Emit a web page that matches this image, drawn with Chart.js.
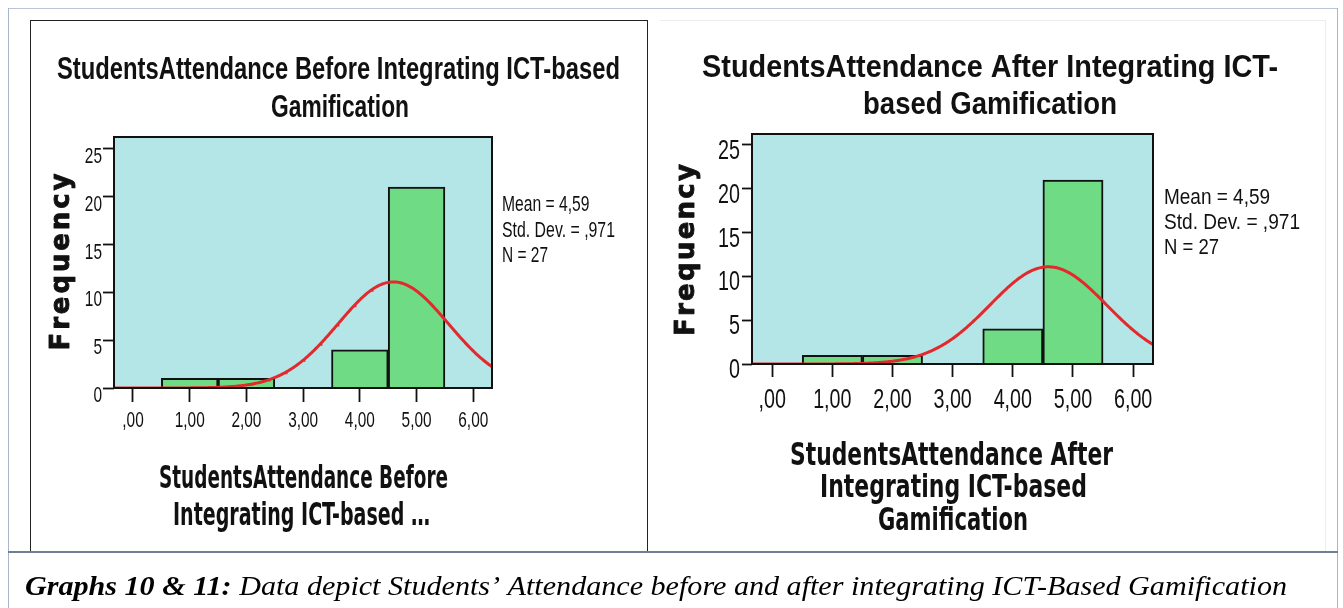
<!DOCTYPE html>
<html>
<head>
<meta charset="utf-8">
<script src="https://cdn.jsdelivr.net/npm/chart.js@4.4.1/dist/chart.umd.min.js"></script>
<style>
  html, body { margin: 0; padding: 0; background: #fff; }
  #page { position: relative; width: 1343px; height: 608px; overflow: hidden; background: #fff; }
  .rule { position: absolute; }
  canvas { position: absolute; }
</style>
</head>
<body>
<div id="page">
  <!-- outer frame and caption separator -->
  <div class="rule" style="left:8px;top:8px;width:1330px;height:1px;background:#b9c6d8"></div>
  <div class="rule" style="left:8px;top:8px;width:1px;height:600px;background:#a8b6ca"></div>
  <div class="rule" style="left:1337px;top:8px;width:1px;height:600px;background:#a8b6ca"></div>
  <div class="rule" style="left:8px;top:551px;width:1330px;height:2px;background:#6f7f93"></div>
  <!-- left panel frame (open at the bottom) -->
  <div class="rule" style="left:30px;top:20px;width:618px;height:1px;background:#222"></div>
  <div class="rule" style="left:30px;top:20px;width:1px;height:531px;background:#222"></div>
  <div class="rule" style="left:647px;top:20px;width:1px;height:531px;background:#222"></div>
  <!-- right panel faint frame -->
  <div class="rule" style="left:660px;top:20px;width:665px;height:1px;background:#ececec"></div>
  <div class="rule" style="left:1325px;top:20px;width:1px;height:531px;background:#ececec"></div>

  <canvas id="before" width="660" height="560" style="left:0;top:0"></canvas>
  <canvas id="after" width="683" height="560" style="left:660px;top:0"></canvas>
  <canvas id="caption" width="1343" height="55" style="left:0;top:553px"></canvas>
</div>

<script>
// ---- data ----
const binCenters   = [1, 2, 4, 5];
const beforeCounts = [1, 1, 4, 21];
const afterCounts  = [1, 1, 4, 21];
const xTickLabels  = [',00', '1,00', '2,00', '3,00', '4,00', '5,00', '6,00'];
const yTickStep    = 5;
const beforeStats  = [4.59, 0.971, 27];   // mean, std. dev., N
const afterStats   = [4.59, 0.971, 27];
const beforeTitle  = ['StudentsAttendance Before Integrating ICT-based', 'Gamification'];
const afterTitle   = ['StudentsAttendance After Integrating ICT-', 'based Gamification'];
const beforeXTitle = ['StudentsAttendance Before', 'Integrating ICT-based \u2026'];
const afterXTitle  = ['StudentsAttendance After', 'Integrating ICT-based', 'Gamification'];
const yTitle       = 'Frequency';
const captionBold  = 'Graphs 10 & 11:';
const captionText  = ' Data depict Students\u2019 Attendance before and after integrating ICT-Based Gamification';

// ---- styling ----
const SANS     = "'Liberation Sans', Arial, sans-serif";
const PLOT_BG  = '#b4e6e8';
const BAR_FILL = '#6fdc85';
const CURVE    = '#e3292d';
const INK      = '#111';
const X_MIN = -0.335, X_MAX = 6.33, Y_MAX = 26.25;

// SPSS-style number: comma decimal, no leading zero
function spss(v, digits) {
  let s = v.toFixed(digits).replace('.', ',');
  if (s.startsWith('0,')) s = s.slice(1);
  return s;
}

// Normal curve fitted from the summary statistics (bin width 1)
function normalCurve(stats) {
  const [mean, sd, n] = stats;
  const peak = n / (sd * Math.sqrt(2 * Math.PI));
  const pts = [];
  for (let i = 0; i <= 400; i++) {
    const x = X_MIN + (X_MAX - X_MIN) * i / 400;
    pts.push({ x: x, y: peak * Math.exp(-((x - mean) ** 2) / (2 * sd * sd)) });
  }
  return pts;
}

// text squeezed/stretched to an exact width
function fitText(ctx, text, x, baseline, font, width, align) {
  ctx.save();
  ctx.font = font;
  ctx.fillStyle = INK;
  ctx.textAlign = 'left';
  ctx.textBaseline = 'alphabetic';
  const w = ctx.measureText(text).width;
  const left = align === 'left' ? x : x - width / 2;
  ctx.translate(left, baseline);
  ctx.scale(width / w, 1);
  ctx.fillText(text, 0, 0);
  ctx.restore();
}

// text with a fixed horizontal squeeze factor
function squeezedText(ctx, text, x, baseline, font, sx, align) {
  ctx.save();
  ctx.font = font;
  ctx.fillStyle = INK;
  ctx.textAlign = 'left';
  ctx.textBaseline = 'alphabetic';
  const w = ctx.measureText(text).width * sx;
  const left = align === 'right' ? x - w : align === 'center' ? x - w / 2 : x;
  ctx.translate(left, baseline);
  ctx.scale(sx, 1);
  ctx.fillText(text, 0, 0);
  ctx.restore();
}

// rotated, letter-spaced, heavy axis title
function spacedVertical(ctx, text, cx, cy, font, length) {
  ctx.save();
  ctx.font = font;
  ctx.fillStyle = INK;
  ctx.strokeStyle = INK;
  ctx.lineWidth = 0.9;
  ctx.lineJoin = 'round';
  const chars = [...text];
  const widths = chars.map(c => ctx.measureText(c).width);
  const natural = widths.reduce((a, b) => a + b, 0);
  const gap = (length - natural) / (chars.length - 1);
  ctx.translate(cx, cy);
  ctx.rotate(-Math.PI / 2);
  ctx.textAlign = 'left';
  ctx.textBaseline = 'middle';
  let x = -length / 2;
  chars.forEach((c, i) => { ctx.fillText(c, x, 0); ctx.strokeText(c, x, 0); x += widths[i] + gap; });
  ctx.restore();
}

function makePanel(id, counts, stats, titles, xTitles, L) {
  const statLines = ['Mean = ' + spss(stats[0], 2), 'Std. Dev. = ' + spss(stats[1], 3), 'N = ' + stats[2]];

  const decor = {
    id: 'panelDecor',
    beforeDraw(chart) {
      const a = chart.chartArea, ctx = chart.ctx;
      ctx.save();
      ctx.fillStyle = PLOT_BG;
      ctx.fillRect(a.left, a.top, a.right - a.left, a.bottom - a.top);
      ctx.restore();
    },
    afterDraw(chart) {
      const a = chart.chartArea, ctx = chart.ctx;
      ctx.save();
      ctx.strokeStyle = INK;
      ctx.lineWidth = 2;
      ctx.strokeRect(a.left, a.top, a.right - a.left, a.bottom - a.top);
      ctx.restore();

      // tick labels in the narrow SPSS style, placed by the chart's own scales
      const xs = chart.scales.x, ys = chart.scales.y;
      const tickFont = L.tickSize + 'px ' + SANS;
      xs.ticks.forEach(t => squeezedText(ctx, xTickLabels[Math.round(t.value)],
        xs.getPixelForValue(t.value), L.xLabelBase, tickFont, L.tickSqueeze, 'center'));
      ys.ticks.forEach(t => squeezedText(ctx, String(t.value),
        L.yLabelRight, ys.getPixelForValue(t.value) + L.yLabelDrop, tickFont, L.tickSqueeze, 'right'));

      titles.forEach((t, i) => fitText(ctx, t, L.title[i][0], L.title[i][1], L.titleFont, L.title[i][2]));
      xTitles.forEach((t, i) => fitText(ctx, t, L.xTitle[i][0], L.xTitle[i][1], L.xTitleFont, L.xTitle[i][2]));
      spacedVertical(ctx, yTitle, L.yTitle[0], L.yTitle[1], L.yTitleFont, L.yTitle[2]);
      statLines.forEach((t, i) => fitText(ctx, t, L.stats[0], L.stats[1][i], L.statFont, L.stats[2][i], 'left'));
    }
  };

  return new Chart(document.getElementById(id), {
    type: 'bar',
    data: {
      datasets: [
        {
          type: 'line',
          data: normalCurve(stats),
          borderColor: CURVE,
          borderWidth: 3,
          pointRadius: 0,
          tension: 0,
          order: 0
        },
        {
          type: 'bar',
          data: binCenters.map((x, i) => ({ x: x, y: counts[i] })),
          backgroundColor: BAR_FILL,
          borderColor: INK,
          borderWidth: { top: 2, left: 2, right: 2, bottom: 0 },
          barPercentage: 1,
          categoryPercentage: 1,
          order: 1
        }
      ]
    },
    options: {
      responsive: false,
      animation: false,
      events: [],
      layout: { padding: L.padding },
      plugins: { legend: { display: false }, tooltip: { enabled: false }, title: { display: false } },
      scales: {
        x: {
          type: 'linear',
          min: X_MIN, max: X_MAX,
          offset: false,
          ticks: { display: false, stepSize: 1, includeBounds: false, autoSkip: false, maxRotation: 0 },
          grid: { offset: false, drawOnChartArea: false, tickLength: L.xTickLen, tickWidth: 1.8, tickColor: INK },
          border: { display: false },
          afterFit: s => { s.height = 50; }
        },
        y: {
          type: 'linear',
          min: 0, max: Y_MAX,
          ticks: { display: false, stepSize: yTickStep, includeBounds: false },
          grid: { drawOnChartArea: false, tickLength: L.yTickLen, tickWidth: 1.8, tickColor: INK },
          border: { display: false },
          afterFit: s => { s.width = L.yWidth; }
        }
      }
    },
    plugins: [decor]
  });
}

const TITLE_FONT  = "bold 32px 'Liberation Sans', Arial, sans-serif";
const XTITLE_FONT = "bold 32px 'DejaVu Sans Condensed', 'DejaVu Sans', sans-serif";
const YTITLE_FONT = "bold 26px 'DejaVu Sans', sans-serif";
const STAT_FONT   = "22px " + SANS;

makePanel('before', beforeCounts, beforeStats, beforeTitle, beforeXTitle, {
  padding: { left: 54, right: 168, top: 137, bottom: 122 },
  yWidth: 60,
  tickSize: 22, tickSqueeze: 0.7,
  xTickLen: 14, xLabelBase: 427,
  yTickLen: 11, yLabelRight: 102, yLabelDrop: 14,
  titleFont: TITLE_FONT,
  title: [[338.5, 79, 563], [340, 117, 138]],
  xTitleFont: XTITLE_FONT,
  xTitle: [[303.5, 488, 289], [301.5, 525, 257]],
  yTitleFont: YTITLE_FONT,
  yTitle: [62, 262, 177],
  statFont: STAT_FONT,
  stats: [502, [211, 237, 262], [87.5, 113, 46]]
});

makePanel('after', afterCounts, afterStats, afterTitle, afterXTitle, {
  padding: { left: 37, right: 190, top: 134, bottom: 146 },
  yWidth: 55,
  tickSize: 27, tickSqueeze: 0.73,
  xTickLen: 13, xLabelBase: 408,
  yTickLen: 10, yLabelRight: 80, yLabelDrop: 14,
  titleFont: TITLE_FONT,
  title: [[330, 77, 576], [330, 113.5, 254]],
  xTitleFont: XTITLE_FONT,
  xTitle: [[291.5, 465, 323], [293.5, 497, 267], [293, 530, 150]],
  yTitleFont: YTITLE_FONT,
  yTitle: [27, 250, 172],
  statFont: STAT_FONT,
  stats: [504, [204, 229, 254], [106, 136, 55]]
});

// caption under both graphs
(function drawCaption() {
  const ctx = document.getElementById('caption').getContext('2d');
  const boldFont = "italic bold 28px 'Liberation Serif', 'Times New Roman', serif";
  const textFont = "italic 28px 'Liberation Serif', 'Times New Roman', serif";
  ctx.font = boldFont;
  const w1 = ctx.measureText(captionBold).width;
  ctx.font = textFont;
  const w2 = ctx.measureText(captionText).width;
  const s = 1262 / (w1 + w2);
  ctx.save();
  ctx.fillStyle = '#000';
  ctx.translate(25, 42);
  ctx.scale(s, 1);
  ctx.font = boldFont;
  ctx.fillText(captionBold, 0, 0);
  ctx.font = textFont;
  ctx.fillText(captionText, w1, 0);
  ctx.restore();
})();
</script>
</body>
</html>
